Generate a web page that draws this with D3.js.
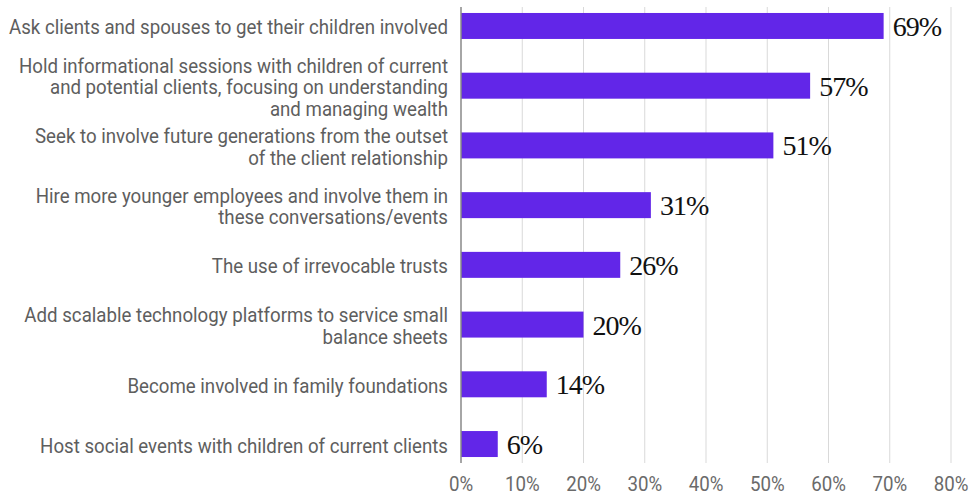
<!DOCTYPE html>
<html>
<head>
<meta charset="utf-8">
<script src="https://cdn.jsdelivr.net/npm/d3@7"></script>
<style>
  body { margin: 0; background: #fff; }
  .cat { font-family: Roboto, "Noto Sans", sans-serif; font-size: 21px; fill: #5e5e5e; }
  .tick-label { font-family: Roboto, "Noto Sans", sans-serif; font-size: 21px; fill: #6a6a6a; }
  .val { font-family: "Liberation Serif", "DejaVu Serif", serif; font-size: 28px; fill: #111; letter-spacing: -1px; }
</style>
</head>
<body>
<svg id="chart"></svg>
<script>
const categories = [
  ["Ask clients and spouses to get their children involved"],
  ["Hold informational sessions with children of current", "and potential clients, focusing on understanding", "and managing wealth"],
  ["Seek to involve future generations from the outset", "of the client relationship"],
  ["Hire more younger employees and involve them in", "these conversations/events"],
  ["The use of irrevocable trusts"],
  ["Add scalable technology platforms to service small", "balance sheets"],
  ["Become involved in family foundations"],
  ["Host social events with children of current clients"]
];
const values = [69, 57, 51, 31, 26, 20, 14, 6];
const ticks = [0, 10, 20, 30, 40, 50, 60, 70, 80];

const W = 973, H = 495;
const margin = { top: 7, right: 22, bottom: 32, left: 461 };
const width = W - margin.left - margin.right;
const height = H - margin.top - margin.bottom;
const squeeze = 0.89;

const svg = d3.select("#chart").attr("width", W).attr("height", H);
const g = svg.append("g").attr("transform", `translate(${margin.left}, ${margin.top})`);

const x = d3.scaleLinear().domain([0, 80]).range([0, 490]);
const y = d3.scaleBand().domain(d3.range(values.length)).range([0, height]).paddingInner(0.565).paddingOuter(0.1);

// gridlines
g.selectAll(".grid")
  .data(ticks.slice(1))
  .enter().append("line")
  .attr("x1", d => x(d)).attr("x2", d => x(d))
  .attr("y1", 0).attr("y2", height)
  .attr("stroke", "#d9d9d9").attr("stroke-width", 1);

// tick labels (narrow face)
g.selectAll(".tick-label")
  .data(ticks)
  .enter().append("text")
  .attr("class", "tick-label")
  .attr("transform", d => `translate(${x(d)}, ${height + 28}) scale(${squeeze}, 1)`)
  .attr("text-anchor", "middle")
  .text(d => d + "%");

// bars
g.selectAll(".bar")
  .data(values)
  .enter().append("rect")
  .attr("x", 0)
  .attr("y", (d, i) => y(i))
  .attr("width", d => x(d))
  .attr("height", y.bandwidth())
  .attr("fill", "#6226e8");

// value labels
g.selectAll(".val")
  .data(values)
  .enter().append("text")
  .attr("class", "val")
  .attr("x", d => x(d) + 9)
  .attr("y", (d, i) => y(i) + y.bandwidth() / 2 + 10)
  .text(d => d + "%");

// axis line
g.append("line")
  .attr("x1", 0).attr("x2", 0)
  .attr("y1", 0).attr("y2", height)
  .attr("stroke", "#888").attr("stroke-width", 1.5);

// category labels
const lineH = 21.5;
categories.forEach((lines, i) => {
  const cy = y(i) + y.bandwidth() / 2;
  const t = g.append("text")
    .attr("class", "cat")
    .attr("text-anchor", "end")
    .attr("transform", `translate(-13, ${cy - (lines.length - 1) * lineH / 2 + 8.5}) scale(${squeeze}, 1)`);
  lines.forEach((l, j) => {
    t.append("tspan").attr("x", 0).attr("dy", j === 0 ? 0 : lineH).text(l);
  });
});
</script>
</body>
</html>
